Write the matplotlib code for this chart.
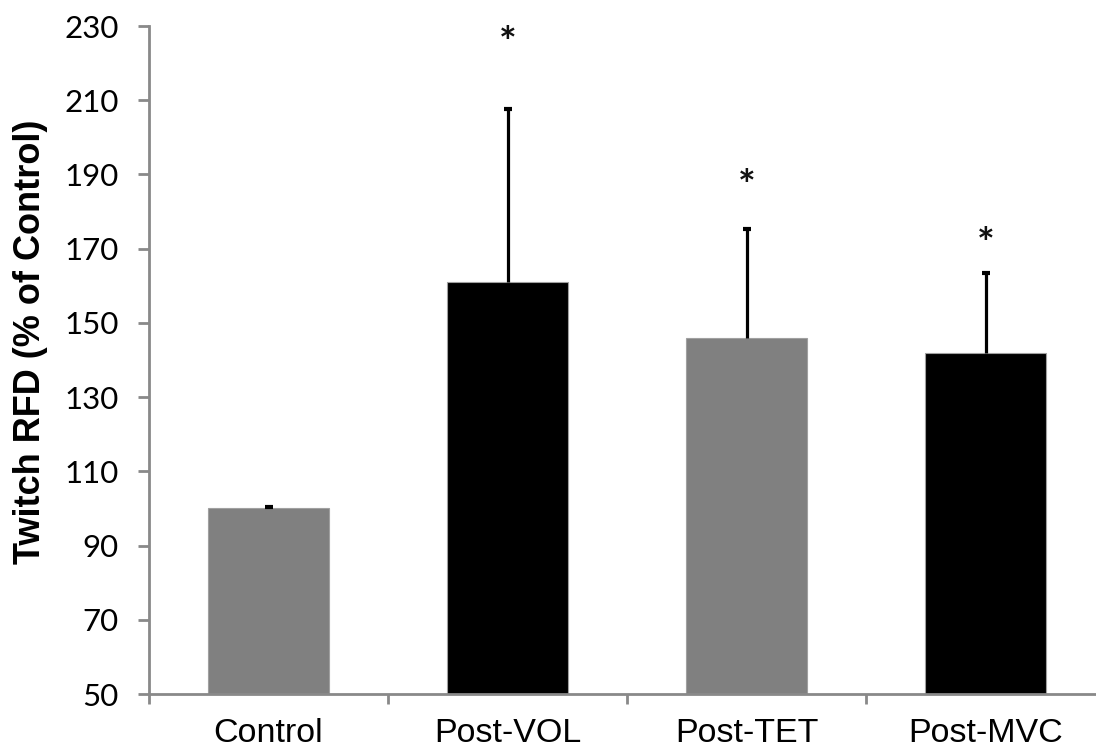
import matplotlib
matplotlib.use("Agg")
import matplotlib.pyplot as plt
import numpy as np

categories = ["Control", "Post-VOL", "Post-TET", "Post-MVC"]
means = [100.1, 161.1, 145.8, 141.8]
errors = [0.4, 46.5, 29.5, 21.6]
star_y = [None, 225.0, 186.3, 170.8]
bar_colors = ["#808080", "#000000", "#808080", "#000000"]
yticks = [50, 70, 90, 110, 130, 150, 170, 190, 210, 230]

fig = plt.figure(figsize=(10.96, 7.47), dpi=100)
ax = fig.add_axes([149/1096, 1 - 694/747, (1105-149)/1096, (694-26)/747])

x = np.arange(len(categories))
ax.bar(x, means, width=0.506, color=bar_colors, edgecolor="#a0a0a0", linewidth=0.8, zorder=2)
ax.errorbar(x, means, yerr=[np.zeros(len(x)), errors], fmt="none", ecolor="black",
            elinewidth=2.3, capsize=0, zorder=3)
tops = np.array(means) + np.array(errors)
ax.plot(x, tops, linestyle="none", marker="_", markersize=6, markeredgewidth=3.0,
        color="black", zorder=4)

for xi, sy in zip(x, star_y):
    if sy is not None:
        ax.text(xi, sy, "*", ha="center", va="center", fontsize=30, family="Lato",
                fontweight="bold", color="#111111")

ax.set_xlim(-0.5, len(categories) - 0.5)
ax.set_ylim(50, 230)
ax.set_yticks(yticks)
ax.set_yticklabels([str(t) for t in yticks], family="Lato", fontsize=22.5)
ax.set_xticks(np.arange(len(categories) + 1) - 0.5, minor=False)
ax.set_xticklabels([""] * (len(categories) + 1))
ax.set_xticks(x, minor=True)
ax.set_xticklabels(categories, minor=True, family="Liberation Sans", fontsize=24.5)
ax.tick_params(axis="x", which="minor", length=0, pad=17)
ax.tick_params(axis="x", which="major", length=7.5, width=2, color="#898989", direction="out")
ax.tick_params(axis="y", length=8, width=2, color="#898989", direction="out", pad=14)

for s in ["top", "right"]:
    ax.spines[s].set_visible(False)
for s in ["left", "bottom"]:
    ax.spines[s].set_color("#898989")
    ax.spines[s].set_linewidth(2)

ax.set_ylabel("Twitch RFD (% of Control)", family="Liberation Sans", fontweight="bold",
              fontsize=26)
ax.yaxis.set_label_coords(-0.106, 0.527)

fig.savefig("out.png", dpi=100)
